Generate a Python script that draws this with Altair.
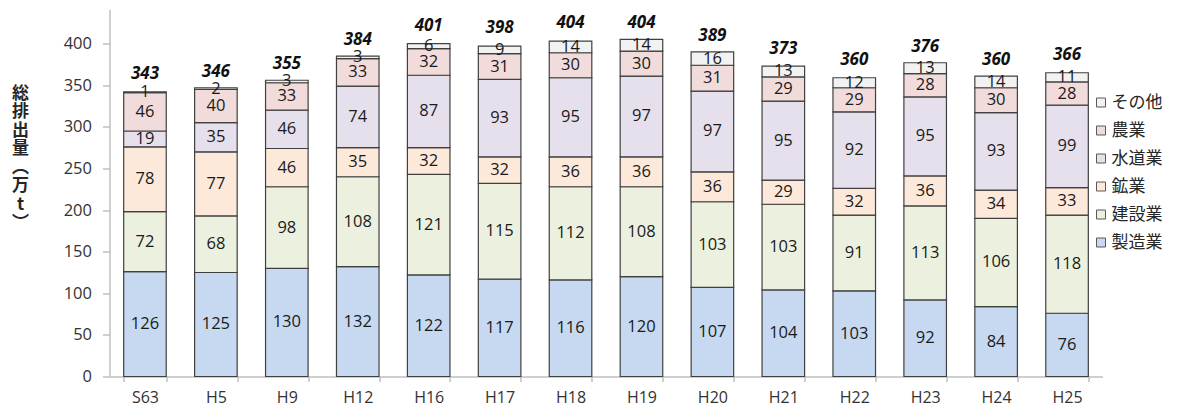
import altair as alt
import pandas as pd

years = ["S63", "H5", "H9", "H12", "H16", "H17", "H18", "H19", "H20", "H21", "H22", "H23", "H24", "H25"]
seizo = [126, 125, 130, 132, 122, 117, 116, 120, 107, 104, 103, 92, 84, 76]
kensetsu = [72, 68, 98, 108, 121, 115, 112, 108, 103, 103, 91, 113, 106, 118]
kogyo = [78, 77, 46, 35, 32, 32, 36, 36, 36, 29, 32, 36, 34, 33]
suido = [19, 35, 46, 74, 87, 93, 95, 97, 97, 95, 92, 95, 93, 99]
nogyo = [46, 40, 33, 33, 32, 31, 30, 30, 31, 29, 29, 28, 30, 28]
sonota = [1, 2, 3, 3, 6, 9, 14, 14, 16, 13, 12, 13, 14, 11]
totals = [343, 346, 355, 384, 401, 398, 404, 404, 389, 373, 360, 376, 360, 366]

series_names = ["製造業", "建設業", "鉱業", "水道業", "農業", "その他"]
series_values = [seizo, kensetsu, kogyo, suido, nogyo, sonota]
legend_order = ["その他", "農業", "水道業", "鉱業", "建設業", "製造業"]
colors = ["#f2f2f2", "#f2dcdb", "#e6e0ec", "#fde9d9", "#ebf1de", "#c6d9f1"]

rows = []
for idx, (name, vals) in enumerate(zip(series_names, series_values)):
    for yr, v in zip(years, vals):
        rows.append({"year": yr, "sector": name, "idx": idx, "value": v})
df = pd.DataFrame(rows)
tot_df = pd.DataFrame({"year": years, "total": totals})

NUMFONT = "Open Sans"
JPFONT = "Noto Sans CJK JP"

x_enc = alt.X(
    "year:N",
    sort=years,
    scale=alt.Scale(paddingInner=0.4, paddingOuter=0.2),
    axis=alt.Axis(
        title=None, labelAngle=0, tickBand="extent", tickSize=5,
        domainColor="#bfbfbf", tickColor="#bfbfbf", domainWidth=1.5, tickWidth=1.5,
        labelFont=NUMFONT, labelFontSize=16, labelColor="#333333", labelPadding=8,
    ),
)

yscale = alt.Scale(domain=[0, 441], nice=False)

base = alt.Chart(df).transform_stack(
    stack="value", as_=["v0", "v1"], groupby=["year"],
    sort=[alt.SortField("idx", order="ascending")],
).transform_calculate(mid="(datum.v0 + datum.v1) / 2")

bars = base.mark_bar(stroke="#404040", strokeWidth=1.2).encode(
    x=x_enc,
    y=alt.Y(
        "v0:Q", scale=yscale,
        axis=alt.Axis(
            values=[0, 50, 100, 150, 200, 250, 300, 350, 400], grid=False,
            tickSize=7, labelPadding=11, domainColor="#bfbfbf", tickColor="#bfbfbf",
            domainWidth=1.5, tickWidth=1.5,
            labelFont=NUMFONT, labelFontSize=16.5, labelColor="#333333",
            title=["総", "排", "出", "量", "︵", "万", "t", "︶"],
            titleAngle=0, titleX=-89.5, titleY=75.5, titleAlign="center",
            titleBaseline="top", titleFont=JPFONT, titleFontSize=17,
            titleFontWeight="bold", titleLineHeight=18.5, titleColor="#262626",
        ),
    ),
    y2="v1:Q",
    color=alt.Color(
        "sector:N",
        scale=alt.Scale(domain=legend_order, range=colors),
        legend=alt.Legend(
            title=None, orient="none", legendX=983, legendY=84.5, padding=0,
            symbolType="square", symbolSize=81, symbolStrokeColor="#595959",
            symbolStrokeWidth=1, labelFont=JPFONT, labelFontSize=17,
            labelColor="#262626", rowPadding=10, labelOffset=2,
        ),
    ),
    order=alt.Order("idx:Q", sort="ascending"),
)

labels = base.mark_text(font=NUMFONT, fontSize=16.5, color="#1a1a1a", baseline="middle").encode(
    x=alt.X("year:N", sort=years),
    y=alt.Y("mid:Q", scale=yscale),
    text="value:Q",
)

total_text = alt.Chart(tot_df).mark_text(
    font=NUMFONT, fontSize=17, fontWeight="bold", fontStyle="italic",
    color="#111111", baseline="alphabetic", dy=-12,
).encode(
    x=alt.X("year:N", sort=years),
    y=alt.Y("total:Q", scale=yscale),
    text="total:Q",
)

chart = alt.layer(bars, labels, total_text).properties(
    width=993, height=367,
    autosize=alt.AutoSizeParams(type="none"),
    padding={"left": 101.5, "top": 1.5, "right": 70, "bottom": 32},
).configure_view(stroke=None)

chart.save("out.html", embed_options={"renderer": "svg", "actions": False})
